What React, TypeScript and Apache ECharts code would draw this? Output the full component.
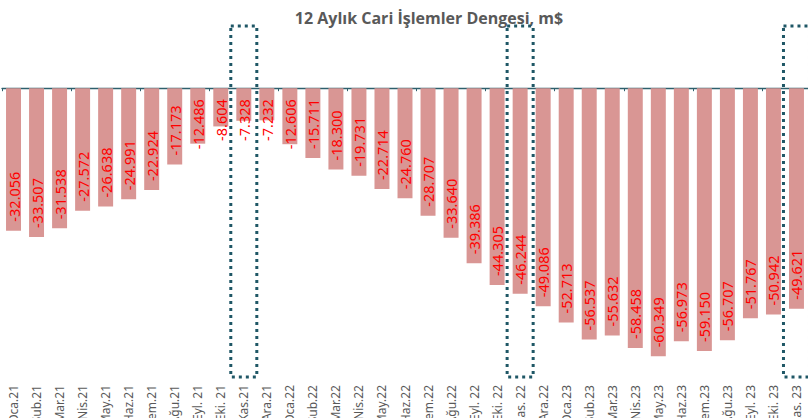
import React, { useEffect, useRef } from "react";
import * as echarts from "echarts";

const title = "12 Aylık Cari İşlemler Dengesi, m$";

const categories = [
  "Oca.21", "Şub.21", "Mar.21", "Nis.21", "May.21", "Haz.21", "Tem.21", "Ağu.21", "Eyl. 21", "Eki. 21", "Kas.21", "Ara.21",
  "Oca.22", "Şub.22", "Mar.22", "Nis.22", "May.22", "Haz.22", "Tem.22", "Ağu.22", "Eyl. 22", "Eki. 22", "Kas. 22", "Ara.22",
  "Oca.23", "Şub.23", "Mar.23", "Nis.23", "May.23", "Haz.23", "Tem.23", "Ağu.23", "Eyl. 23", "Eki. 23", "Kas. 23",
];

const balance = [
  -32056, -33507, -31538, -27572, -26638, -24991, -22924, -17173, -12486, -8604, -7328, -7232,
  -12606, -15711, -18300, -19731, -22714, -24760, -28707, -33640, -39386, -44305, -46244, -49086,
  -52713, -56537, -55632, -58458, -60349, -56973, -59150, -56707, -51767, -50942, -49621,
];

const highlighted = ["Kas.21", "Kas. 22", "Kas. 23"];

const Y_MIN = -65000;
const Y_MAX = 14000;

function fmt(v: number): string {
  const s = Math.abs(v).toString().replace(/\B(?=(\d{3})+(?!\d))/g, ".");
  return (v < 0 ? "-" : "") + s;
}

export default function App() {
  const ref = useRef<HTMLDivElement>(null);

  useEffect(() => {
    if (!ref.current) return;
    const chart = echarts.init(ref.current, null, { renderer: "svg" });

    const barData = balance.map((v) => {
      const short = Math.abs(v) < 14000;
      return {
        value: v,
        label: short
          ? { position: "insideTop", align: "right", distance: 11 }
          : { position: "insideBottom", align: "left", distance: 9 },
      };
    });

    const boxData = highlighted.map((c) => [categories.indexOf(c), 0]);

    const axisColor = "#2e5f6c";

    chart.setOption({
      animation: false,
      backgroundColor: "#ffffff",
      graphic: [
        {
          type: "text",
          x: 429,
          y: 18,
          style: {
            text: title,
            align: "center",
            verticalAlign: "middle",
            fill: "#595959",
            font: "bold 16px 'Open Sans', sans-serif",
          },
        },
      ],
      grid: {
        left: 2,
        width: 806,
        top: 26,
        height: 351,
        containLabel: false,
        outerBoundsMode: "none",
      },
      xAxis: [
        {
          type: "category",
          data: categories,
          position: "bottom",
          axisLine: { show: false, onZero: false },
          axisTick: { show: false },
          axisLabel: {
            rotate: 90,
            interval: 0,
            margin: 8,
            fontSize: 12,
            color: "#595959",
            fontFamily: "'Noto Sans', sans-serif",
          },
        },
        {
          type: "category",
          data: categories,
          position: "bottom",
          axisLine: { show: true, onZero: true, lineStyle: { color: axisColor, width: 1.3 } },
          axisTick: { show: true, length: 3, lineStyle: { color: axisColor, width: 1 } },
          axisLabel: { show: false },
        },
      ],
      yAxis: {
        type: "value",
        min: Y_MIN,
        max: Y_MAX,
        show: false,
        splitLine: { show: false },
      },
      series: [
        {
          type: "bar",
          xAxisIndex: 0,
          data: barData,
          barWidth: "65%",
          itemStyle: { color: "#d99694" },
          label: {
            show: true,
            rotate: 90,
            verticalAlign: "middle",
            color: "#ff0000",
            fontSize: 14.5,
            fontFamily: "'Noto Sans', sans-serif",
            formatter: (p: any) => fmt(p.value),
          },
          z: 2,
        },
        {
          type: "custom",
          xAxisIndex: 0,
          data: boxData,
          encode: { x: 0, y: 1 },
          z: 5,
          clip: false,
          silent: true,
          renderItem: (params: any, api: any) => {
            const idx = api.value(0);
            const c = api.coord([idx, 0]);
            const w = api.size([1, 0])[0] * 1.13;
            const top = api.coord([idx, Y_MAX])[1];
            const bot = api.coord([idx, Y_MIN])[1];
            return {
              type: "rect",
              shape: { x: c[0] - w / 2, y: top, width: w, height: bot - top },
              style: {
                fill: "none",
                stroke: "#1f5766",
                lineWidth: 3,
                lineDash: [3, 4],
                lineCap: "butt",
              },
            };
          },
        },
      ],
    });

    return () => chart.dispose();
  }, []);

  return (
    <div
      ref={ref}
      style={{ position: "absolute", left: 0, top: 0, width: 808, height: 418, background: "#fff" }}
    />
  );
}
